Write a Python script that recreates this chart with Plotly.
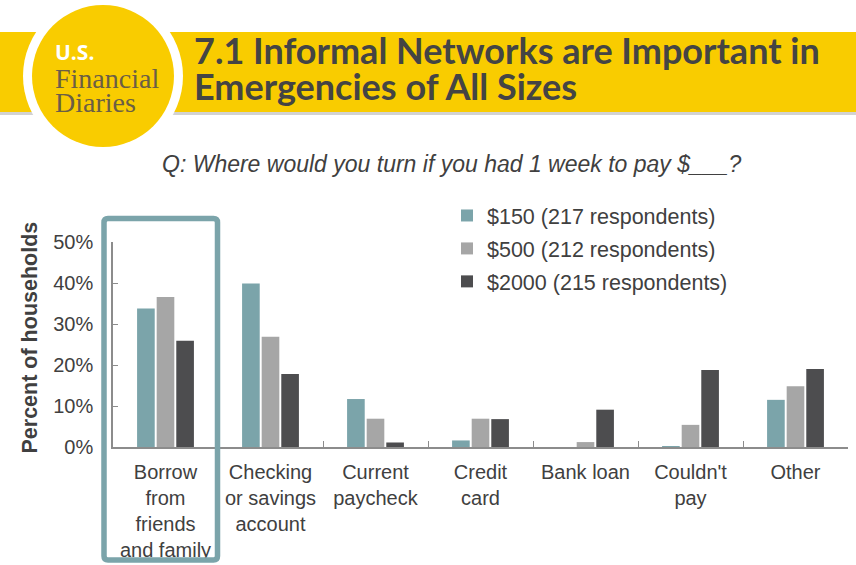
import plotly.graph_objects as go

# ---------------- data ----------------
categories = ["Borrow<br>from<br>friends<br>and family", "Checking<br>or savings<br>account",
              "Current<br>paycheck", "Credit<br>card", "Bank loan", "Couldn't<br>pay", "Other"]
series_names = ["$150 (217 respondents)", "$500 (212 respondents)", "$2000 (215 respondents)"]
v150 = [33.8, 39.9, 11.7, 1.6, 0.0, 0.1, 11.5]
v500 = [36.6, 26.9, 6.9, 6.9, 1.2, 5.4, 14.8]
v2000 = [25.9, 17.8, 1.1, 6.8, 9.1, 18.8, 19.0]
series_values = [v150, v500, v2000]
series_colors = ["#7BA4AA", "#A6A6A6", "#4D4D4F"]
y_ticks = [0, 10, 20, 30, 40, 50]
y_ticktext = [f"{t}%" for t in y_ticks]

# ---------------- layout geometry ----------------
W, H = 856, 565
L, R, T, B = 113, 8, 242, 118
PW, PH = W - L - R, H - T - B


def xp(px):
    return (px - L) / PW


def yp(py):
    return (H - B - py) / PH


fig = go.Figure()
for name, vals, col in zip(series_names, series_values, series_colors):
    fig.add_trace(go.Bar(x=categories, y=vals, name=name, marker_color=col,
                         marker_line_width=0, legendgroup=name))

TXT = "#404040"
shapes = []
# header band
shapes.append(dict(type="rect", xref="paper", yref="paper", x0=xp(0), x1=xp(W), y0=yp(112), y1=yp(32),
                   fillcolor="#F9CC00", line_width=0, layer="below"))
shapes.append(dict(type="rect", xref="paper", yref="paper", x0=xp(0), x1=xp(W), y0=yp(115), y1=yp(112),
                   fillcolor="#D2D2D2", line_width=0, layer="below"))
# logo circles
cx, cy = 103, 76
for r, col in [(80, "white"), (71, "#F9CC00")]:
    shapes.append(dict(type="circle", xref="paper", yref="paper", x0=xp(cx - r), x1=xp(cx + r),
                       y0=yp(cy + r), y1=yp(cy - r), fillcolor=col, line_width=0, layer="below"))
# highlight box with rounded corners
bx0, bx1, by0, by1, rr = 104, 217.5, 218.5, 560, 4
X = lambda p: xp(p)
Y = lambda p: yp(p)
path = (f"M {X(bx0+rr)},{Y(by0)} L {X(bx1-rr)},{Y(by0)} Q {X(bx1)},{Y(by0)} {X(bx1)},{Y(by0+rr)} "
        f"L {X(bx1)},{Y(by1-rr)} Q {X(bx1)},{Y(by1)} {X(bx1-rr)},{Y(by1)} "
        f"L {X(bx0+rr)},{Y(by1)} Q {X(bx0)},{Y(by1)} {X(bx0)},{Y(by1-rr)} "
        f"L {X(bx0)},{Y(by0+rr)} Q {X(bx0)},{Y(by0)} {X(bx0+rr)},{Y(by0)} Z")
shapes.append(dict(type="path", xref="paper", yref="paper", path=path,
                   line=dict(color="#7BA4AA", width=5.5), layer="above"))

ann = []
# title
ann.append(dict(text="<b>7.1 Informal Networks are Important in</b>", x=xp(192), y=yp(50),
                xanchor="left", yanchor="middle", showarrow=False, xref="paper", yref="paper",
                font=dict(family="Lato", size=36, color="#444444")))
ann.append(dict(text="<b>Emergencies of All Sizes</b>", x=xp(192), y=yp(86),
                xanchor="left", yanchor="middle", showarrow=False, xref="paper", yref="paper",
                font=dict(family="Lato", size=36, color="#444444")))
# logo text
ann.append(dict(text="<b>U.S.</b>", x=xp(53), y=yp(52), xanchor="left", yanchor="middle",
                showarrow=False, xref="paper", yref="paper",
                font=dict(family="Open Sans", size=21, color="white")))
ann.append(dict(text="Financial", x=xp(53), y=yp(78), xanchor="left", yanchor="middle",
                showarrow=False, xref="paper", yref="paper",
                font=dict(family="Liberation Serif", size=28, color="#6B5E45")))
ann.append(dict(text="Diaries", x=xp(53), y=yp(102), xanchor="left", yanchor="middle",
                showarrow=False, xref="paper", yref="paper",
                font=dict(family="Liberation Serif", size=28, color="#6B5E45")))
# subtitle
ann.append(dict(text="<i>Q: Where would you turn if you had 1 week to pay $___?</i>", x=xp(451), y=yp(164),
                xanchor="center", yanchor="middle", showarrow=False, xref="paper", yref="paper",
                font=dict(family="Liberation Sans", size=23, color=TXT)))
# y title
ann.append(dict(text="<b>Percent of households</b>", x=xp(29), y=yp(337.5), textangle=-90,
                xanchor="center", yanchor="middle", showarrow=False, xref="paper", yref="paper",
                font=dict(family="Liberation Sans", size=21.5, color=TXT)))

fig.update_layout(
    width=W, height=H,
    margin=dict(l=L, r=R, t=T, b=B, pad=0, autoexpand=False),
    paper_bgcolor="white", plot_bgcolor="white",
    barmode="group", bargap=0.44, bargroupgap=0.1,
    font=dict(family="Liberation Sans", size=20, color=TXT),
    showlegend=True,
    legend=dict(x=xp(447), y=yp(195), xanchor="left", yanchor="top",
                font=dict(family="Liberation Sans", size=21.5, color=TXT),
                bgcolor="rgba(0,0,0,0)", traceorder="grouped", tracegroupgap=2,
                itemclick=False),
    shapes=shapes, annotations=ann,
    xaxis=dict(showline=True, linecolor="#8C8C8C", linewidth=1.5, ticks="inside",
               tickson="boundaries", ticklen=6, tickcolor="#8C8C8C", showgrid=False,
               tickangle=0, automargin=False,
               tickfont=dict(size=20, color=TXT), ticklabelstandoff=6, fixedrange=True),
    yaxis=dict(range=[0, 50], tickvals=y_ticks, ticktext=y_ticktext, showline=True,
               linecolor="#8C8C8C", linewidth=1.5, ticks="inside", ticklen=5,
               tickcolor="#8C8C8C", showgrid=False, zeroline=False, automargin=False,
               tickfont=dict(size=20, color=TXT), ticklabelstandoff=14, fixedrange=True),
)

fig.write_html("out.html")
